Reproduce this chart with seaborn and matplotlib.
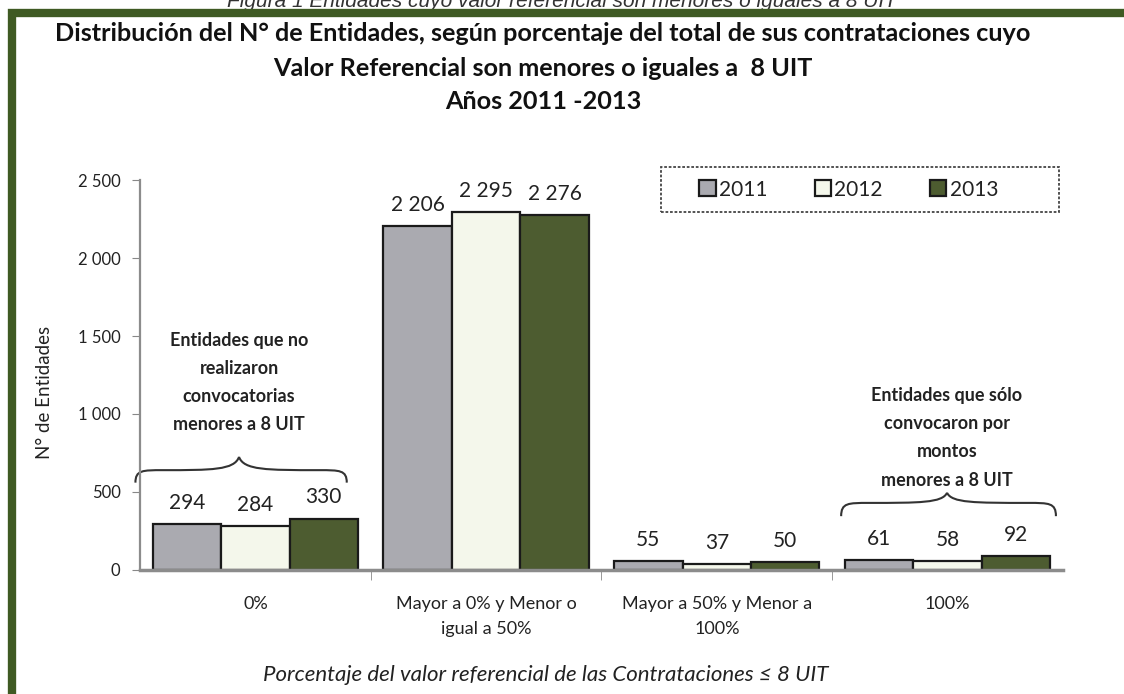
import seaborn as sns
import matplotlib.pyplot as plt
import pandas as pd
from matplotlib.patches import Rectangle
from matplotlib.path import Path
from matplotlib.patches import PathPatch

categorias = ["0%", "Mayor a 0% y Menor o\nigual a 50%", "Mayor a 50% y Menor a\n100%", "100%"]
anios = ["2011", "2012", "2013"]
v2011 = [294, 2206, 55, 61]
v2012 = [284, 2295, 37, 58]
v2013 = [330, 2276, 50, 92]
colores = ["#a9a9b1", "#f5f9e9", "#4f6329"]

df = pd.DataFrame({
    "categoria": categorias * 3,
    "anio": [a for a in anios for _ in categorias],
    "valor": v2011 + v2012 + v2013,
})

sns.set_style("white")
plt.rcParams["font.family"] = ["Lato", "DejaVu Sans"]

fig = plt.figure(figsize=(11.24, 6.94), dpi=100)
ax = fig.add_axes([0.1246, 0.1787, 0.821, 0.5619])

sns.barplot(data=df, x="categoria", y="valor", hue="anio", palette=colores,
            width=0.89, edgecolor="#1a1a1a", linewidth=1.6, ax=ax, legend=True)

for c in ax.containers:
    labels = [f"{int(v):,}".replace(",", " ") for v in c.datavalues]
    ax.bar_label(c, labels=labels, padding=8, fontsize=15, color="#222222")

ax.set_ylim(0, 2500)
ax.set_xlim(-0.5, 3.5)
ax.set_yticks([0, 500, 1000, 1500, 2000, 2500])
ax.set_yticklabels(["0", "500", "1 000", "1 500", "2 000", "2 500"], fontsize=12, color="#222222")
ax.set_xticks(range(4))
ax.set_xticklabels(categorias, fontsize=13, color="#222222", linespacing=1.7)
ax.tick_params(axis="x", length=0, pad=19)
ax.tick_params(axis="y", length=6, color="#888888", direction="out", left=True, pad=8)
ax.set_xticks([0.5, 1.5, 2.5], minor=True)
ax.tick_params(axis="x", which="minor", length=7, color="#888888", direction="out", bottom=True)
ax.set_xlabel("Porcentaje del valor referencial de las Contrataciones ≤ 8 UIT",
              fontsize=16, style="italic", color="#222222", labelpad=20)
ax.xaxis.label.set_x(0.44)
ax.set_ylabel("N° de Entidades", fontsize=13.5, color="#222222", labelpad=18)
ax.yaxis.label.set_y(0.455)

sns.despine(ax=ax)
ax.spines["left"].set_color("#8c8c8c")
ax.spines["left"].set_linewidth(1.6)
ax.spines["bottom"].set_color("#8c8c8c")
ax.spines["bottom"].set_linewidth(2.5)

# legend without its own frame, dotted box drawn around it
leg = ax.legend(loc="center", bbox_to_anchor=(0.768, 0.9755), ncol=3, frameon=False,
                fontsize=15, handlelength=0.8, handleheight=0.8, columnspacing=2.25,
                handletextpad=0.15, borderaxespad=0)
for t in leg.get_texts():
    t.set_color("#222222")
ax.add_patch(Rectangle((0.5646, 0.918), 0.4311, 0.1153, transform=ax.transAxes,
                       fill=False, edgecolor="#444444", linewidth=1.3,
                       linestyle=(0, (1.5, 1)), clip_on=False))


def llave(ax, x0, x1, y, h, hp, xm):
    # curly brace opening downward, drawn in data coords
    codes = [Path.MOVETO, Path.CURVE4, Path.CURVE4, Path.CURVE4,
             Path.CURVE4, Path.CURVE4, Path.CURVE4,
             Path.MOVETO, Path.CURVE4, Path.CURVE4, Path.CURVE4,
             Path.CURVE4, Path.CURVE4, Path.CURVE4]
    verts = [(x0, y - h), (x0, y), (x0 + 0.03, y), (x0 + 0.12, y),
             (xm - 0.12, y), (xm - 0.02, y), (xm, y + hp),
             (x1, y - h), (x1, y), (x1 - 0.03, y), (x1 - 0.12, y),
             (xm + 0.12, y), (xm + 0.02, y), (xm, y + hp)]
    ax.add_patch(PathPatch(Path(verts, codes), fill=False, lw=1.5,
                           edgecolor="#333333", clip_on=False))


llave(ax, -0.52, 0.396, 640, 80, 85, -0.071)
llave(ax, 2.539, 3.47, 430, 85, 65, 2.998)

ax.text(-0.071, 1202, "Entidades que no\nrealizaron\nconvocatorias\nmenores a 8 UIT",
        ha="center", va="center", fontsize=13, fontweight="bold", color="#222222",
        linespacing=1.8)
ax.text(2.998, 848, "Entidades que sólo\nconvocaron por\nmontos\nmenores a 8 UIT",
        ha="center", va="center", fontsize=13, fontweight="bold", color="#222222",
        linespacing=1.8)

fig.text(0.483, 0.952, "Distribución del N° de Entidades, según porcentaje del total de sus contrataciones cuyo",
         ha="center", va="center", fontsize=18.2, fontweight="bold", color="#111111")
fig.text(0.483, 0.902, "Valor Referencial son menores o iguales a  8 UIT",
         ha="center", va="center", fontsize=18.2, fontweight="bold", color="#111111")
fig.text(0.483, 0.854, "Años 2011 -2013",
         ha="center", va="center", fontsize=18.2, fontweight="bold", color="#111111")

fig.text(0.5, 0.998, "Figura 1 Entidades cuyo valor referencial son menores o iguales a 8 UIT",
         ha="center", va="center", fontsize=15, style="italic", color="#333333",
         family=["Liberation Sans", "DejaVu Sans"])

fig.patches.append(Rectangle((0.0107, -0.1), 1.2, 1.0813, transform=fig.transFigure,
                             fill=False, edgecolor="#3f5a23", linewidth=6, zorder=10))

plt.savefig("out.png", dpi=100)
plt.close()
